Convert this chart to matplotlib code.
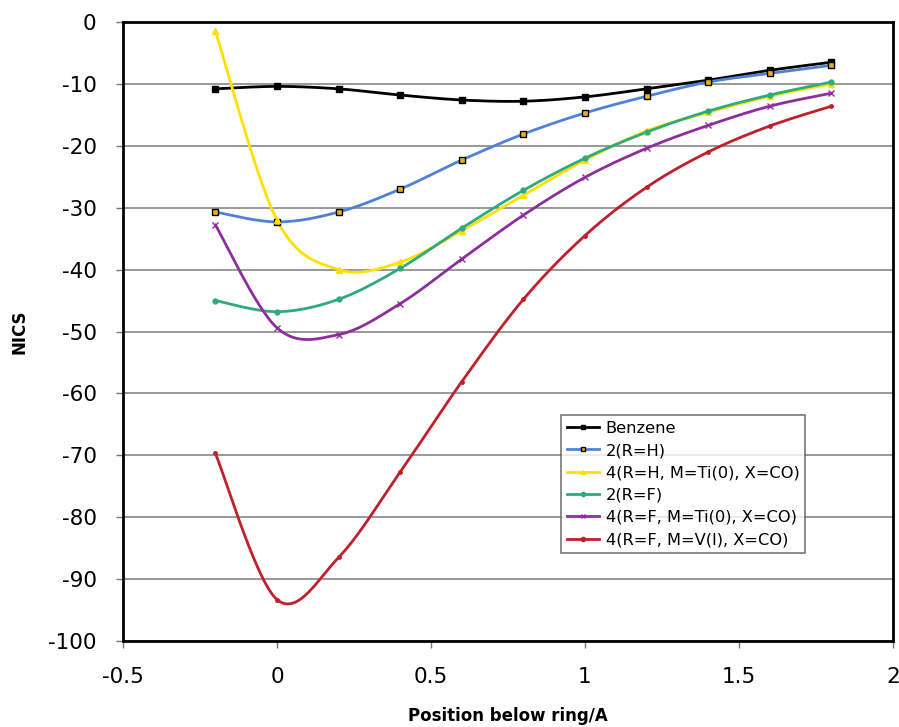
import numpy as np
import matplotlib
matplotlib.use("Agg")
import matplotlib.pyplot as plt

x_vals = [-0.2, 0.0, 0.2, 0.4, 0.6, 0.8, 1.0, 1.2, 1.4, 1.6, 1.8]

benzene = [-10.8, -10.4, -10.8, -11.8, -12.6, -12.8, -12.1, -10.8, -9.4, -7.8, -6.5]
r_h = [-30.7, -32.3, -30.7, -27.0, -22.3, -18.1, -14.7, -12.0, -9.7, -8.3, -7.0]
r_h_ti = [-1.5, -32.0, -40.0, -38.8, -33.7, -28.0, -22.3, -17.6, -14.6, -12.0, -10.0]
r_f = [-45.0, -46.8, -44.8, -39.8, -33.3, -27.2, -22.0, -17.8, -14.4, -11.8, -9.7]
r_f_ti = [-32.8, -49.4, -50.5, -45.5, -38.3, -31.2, -25.1, -20.4, -16.7, -13.6, -11.5]
r_f_v = [-69.7, -93.3, -86.5, -72.7, -58.1, -44.8, -34.5, -26.7, -21.0, -16.8, -13.6]

labels = ["Benzene", "2(R=H)", "4(R=H, M=Ti(0), X=CO)", "2(R=F)",
          "4(R=F, M=Ti(0), X=CO)", "4(R=F, M=V(I), X=CO)"]
series = [benzene, r_h, r_h_ti, r_f, r_f_ti, r_f_v]
colors = ["#000000", "#4F81D8", "#FFE000", "#2EAA7E", "#8E2E9E", "#C0202A"]
markers = ["s", "s", "^", "o", "x", "o"]
mfaces = ["#000000", "#E8B020", "#FFE000", "#2EAA7E", "#8E2E9E", "#C0202A"]
medges = ["#000000", "#000000", "#FFE000", "#2EAA7E", "#8E2E9E", "#C0202A"]
msizes = [4.5, 5, 4, 3.5, 5, 2.5]


def smooth(xs, ys, n=30):
    # Excel-like smoothing: cubic Bezier with Catmull-Rom control points
    P = np.column_stack([xs, ys]).astype(float)
    m = len(P)
    out = [P[0]]
    t = np.linspace(0, 1, n)[1:]
    for i in range(m - 1):
        p0 = P[i - 1] if i > 0 else P[i]
        p1 = P[i]
        p2 = P[i + 1]
        p3 = P[i + 2] if i + 2 < m else P[i + 1]
        c1 = p1 + (p2 - p0) / 6.0
        c2 = p2 - (p3 - p1) / 6.0
        for tt in t:
            b = ((1 - tt) ** 3) * p1 + 3 * ((1 - tt) ** 2) * tt * c1 \
                + 3 * (1 - tt) * tt ** 2 * c2 + tt ** 3 * p2
            out.append(b)
    out = np.array(out)
    return out[:, 0], out[:, 1]


fig = plt.figure(figsize=(8.99, 7.27), dpi=100)
ax = fig.add_axes([123 / 899, 1 - 641 / 727, (893 - 123) / 899, (641 - 22) / 727])

for ys, lab, c, mk, mf, me, ms in zip(series, labels, colors, markers, mfaces, medges, msizes):
    sx, sy = smooth(x_vals, ys)
    ax.plot(sx, sy, color=c, lw=2.0, zorder=3)
    ax.plot(x_vals, ys, linestyle="none", marker=mk, markerfacecolor=mf,
            markeredgecolor=me if mk != "x" else c, markersize=ms, mew=1.0, zorder=4)
    ax.plot([], [], color=c, lw=2.0, marker=mk, markerfacecolor=mf,
            markeredgecolor=me if mk != "x" else c, markersize=3, label=lab)

ax.set_xlim(-0.5, 2)
ax.set_ylim(-100, 0)
ax.set_xticks([-0.5, 0, 0.5, 1, 1.5, 2])
ax.set_xticklabels(["-0.5", "0", "0.5", "1", "1.5", "2"])
ax.set_yticks(np.arange(-100, 1, 10))
ax.set_yticklabels([str(v) for v in range(-100, 1, 10)])
ax.yaxis.grid(True, color="#888888", lw=1.2)
ax.set_axisbelow(True)
for s in ax.spines.values():
    s.set_linewidth(2.0)
    s.set_color("black")
ax.tick_params(axis="both", direction="out", length=5, width=1, color="#777777",
               labelsize=15.5)
ax.tick_params(axis="x", pad=14)
ax.tick_params(axis="y", pad=14)
ax.set_ylabel("NICS", fontsize=12, fontweight="bold", labelpad=14)
ax.set_xlabel("Position below ring/A", fontsize=12, fontweight="bold", labelpad=14)

leg = ax.legend(loc="lower left", bbox_to_anchor=((561 - 123) / 770, (641 - 553) / 619),
                fontsize=11.7, frameon=True, fancybox=False, edgecolor="#555555",
                handlelength=2.0, handletextpad=0.4, borderpad=0.35, labelspacing=0.45,
                borderaxespad=0)
leg.get_frame().set_linewidth(1.2)

fig.savefig("out.png", dpi=100)
